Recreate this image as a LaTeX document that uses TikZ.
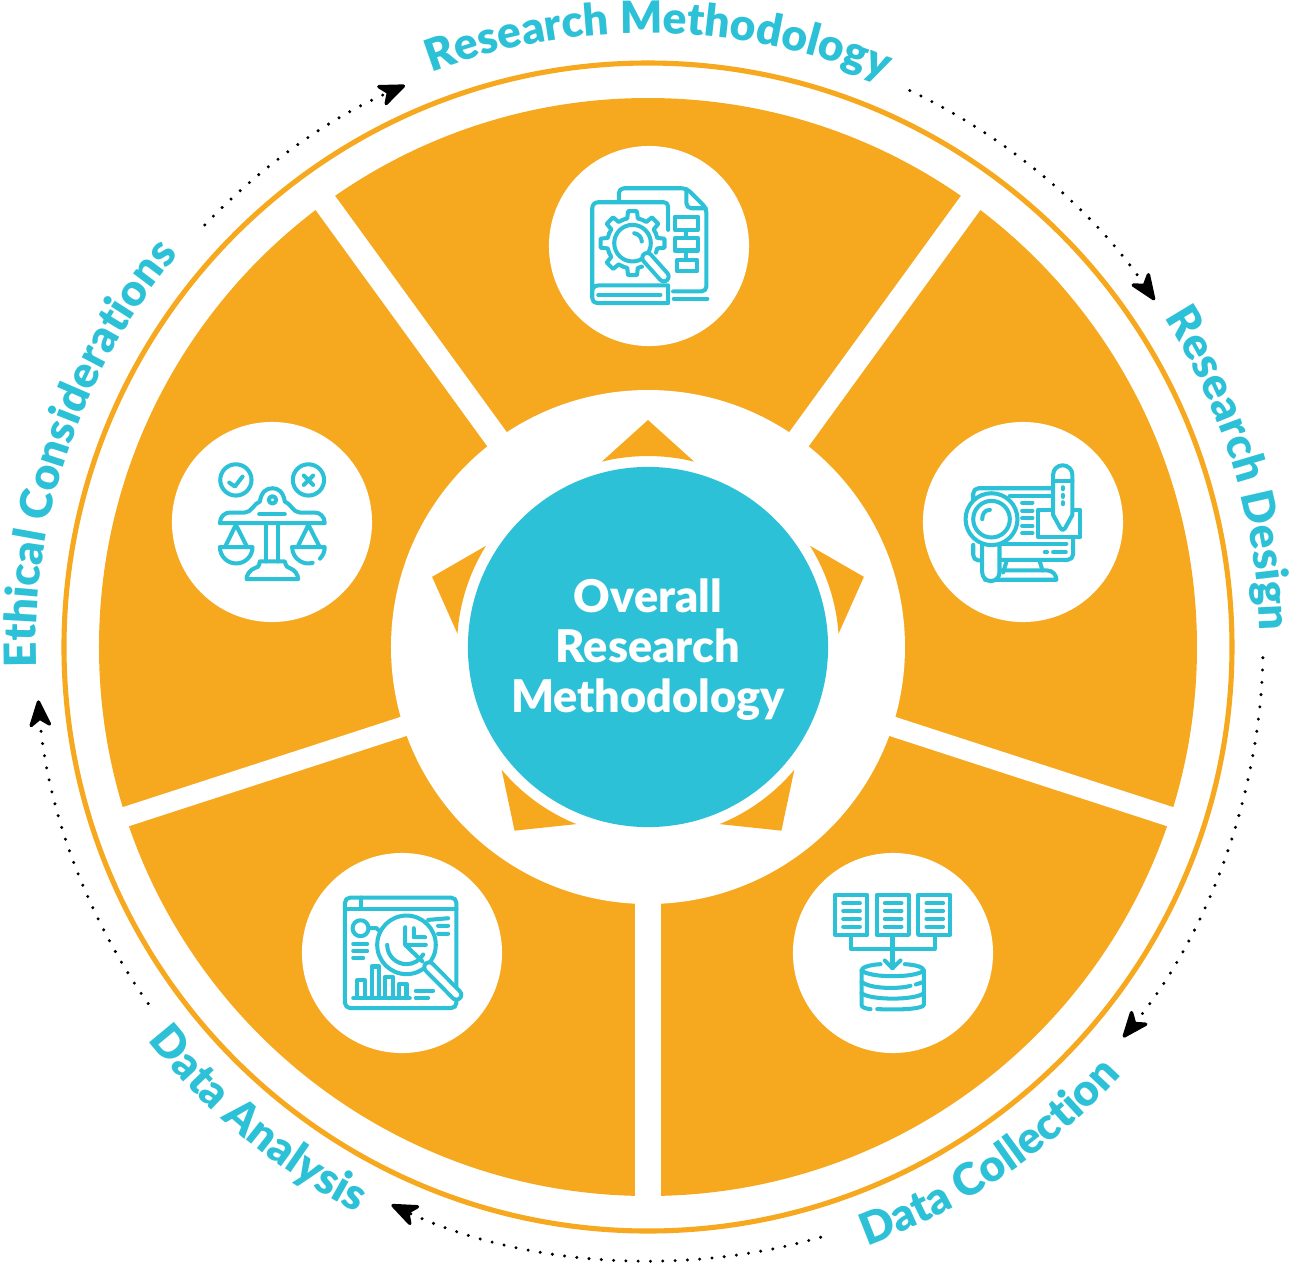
\documentclass[tikz,border=0pt]{standalone}
\usepackage{fontspec}
\setmainfont{Lato}[BoldFont={Lato Black}]
\usetikzlibrary{arrows.meta,decorations.text}
\definecolor{wheelorange}{HTML}{F6A81F}
\definecolor{wheelcyan}{HTML}{2DC1D7}
\newcommand{\labelfont}{\fontsize{12.6}{12.6}\selectfont\bfseries}

\begin{document}
\begin{tikzpicture}[
  x=0.01cm,y=0.01cm,
  iconspot/.style={circle,fill=white,minimum size=2cm,inner sep=0pt},
  corespot/.style={circle,fill=wheelcyan,minimum size=3.6cm,inner sep=0pt},
  coretext/.style={align=center,text=white,inner sep=0pt,font=\fontsize{12.8}{14.2}\selectfont\bfseries},
  iconzoom/.style={x=0.003333cm,y=-0.003333cm},
  iconline/.style={draw=wheelcyan,line width=1.15pt,line cap=round,line join=round},
  iconhandle/.style={iconline,double=white,double distance=1.6pt},
  dotarrow/.style={black,line width=0.95pt,line cap=round,dash pattern=on 0pt off 3.5pt,-{Stealth[length=9pt,width=7.2pt,inset=2.5pt,round=false]},looseness=0.86},
  ringtext/.style={decorate,decoration={text along path,text align=center,text color=wheelcyan,text={|\labelfont|#1}}}
]
  \useasboundingbox (-648,-618) rectangle (651,647);

  \draw[wheelorange,line width=1.45pt] (0,0) circle[radius=584];
  \fill[wheelorange] (0,0) circle[radius=549];
  \foreach \a/\w in {270/25,342/20,54/24,126/24,198/20}
    \draw[white,line width=\w*0.2845pt] (0,0) -- (\a:560);
  \fill[white] (0,0) circle[radius=257];
  \foreach \a in {90,18,306,234,162}
    \fill[wheelorange] (\a:227) -- (\a-14:191) arc[start angle=\a-14,end angle=\a+14,radius=191] -- cycle;

  \node[corespot] (core) at (0,0) {};
  \node[coretext] (coretitle) at (0,-3) {Overall\\Research\\Methodology};
  \node[iconspot] (methodology) at (1,401) {};
  \node[iconspot] (design) at (375,125) {};
  \node[iconspot] (collection) at (245,-306) {};
  \node[iconspot] (analysis) at (-246,-306) {};
  \node[iconspot] (ethics) at (-376,125) {};

  \path[ringtext={Research Methodology}] (111:614) arc[start angle=111,end angle=67,radius=614];
  \path[ringtext={Research Design}] (33:612) arc[start angle=33,end angle=1,radius=612];
  \path[ringtext={Data Collection}] (288.5:638) arc[start angle=288.5,end angle=319.5,radius=638];
  \path[ringtext={Data Analysis}] (218:636) arc[start angle=218,end angle=243,radius=636];
  \path[ringtext={Ethical Considerations}] (182.5:612) arc[start angle=182.5,end angle=139.5,radius=612];

  \coordinate (methodologyend) at (64.8:615);
  \coordinate (designstart) at (34.4:614);
  \coordinate (designend) at (-1:615);
  \coordinate (collectionstart) at (-39.4:615);
  \coordinate (collectionend) at (-73.7:615);
  \coordinate (analysisstart) at (245.3:614);
  \coordinate (analysisend) at (215.5:614);
  \coordinate (ethicsstart) at (185:612);
  \coordinate (ethicsend) at (136.4:612);
  \coordinate (methodologystart) at (113.4:612);

  \draw[dotarrow] (methodologyend) to[bend left=15.2] (designstart);
  \draw[dotarrow] (designend) to[bend left=19] (collectionstart);
  \draw[dotarrow] (collectionend) to[bend left=20.5] (analysisstart);
  \draw[dotarrow] (analysisend) to[bend left=15.2] (ethicsstart);
  \draw[dotarrow] (ethicsend) to[bend left=11.5] (methodologystart);

  \begin{scope}[shift={(-108,507)},iconzoom]
    \draw[iconline,rounded corners=1.4pt] (237,185) -- (237,145) -- (440,145) -- (500,205) -- (500,455) -- (400,455);
    \draw[iconline,rounded corners=1.4pt] (440,148) -- (440,205) -- (498,205);
    \draw[iconline] (385,270) -- (385,200) .. controls (385,192) and (380,187) .. (372,187) -- (175,187) .. controls (165,187) and (157,195) .. (157,205) -- (157,475) .. controls (157,484) and (163,490) .. (172,490) -- (385,490) -- (385,437) -- (175,437) .. controls (165,437) and (157,445) .. (157,455);
    \draw[iconline] (175,465) -- (362,465);
    \draw[iconline] (402,477) -- (503,477);
    \draw[iconline] (405,230) rectangle (475,270);
    \draw[iconline] (405,295) rectangle (475,332);
    \draw[iconline] (412,360) rectangle (472,395);
    \draw[iconline] (440,270) -- (440,295) (440,332) -- (440,360);
    \begin{scope}[shift={(278,310)}]
      \foreach \a in {0,90,135,180,225,270,315}
        \draw[iconline] (\a-22:76) -- (\a-12:76) -- (\a-8:97) -- (\a+8:97) -- (\a+12:76) -- (\a+22:76);
      \draw[iconline,fill=white] (0,0) circle[radius=55];
      \draw[iconline] (5,-30) .. controls (18,-28) and (27,-18) .. (28,-5);
    \end{scope}
    \draw[iconhandle] (322,354) -- (372,410);
  \end{scope}

  \begin{scope}[shift={(262,227)},iconzoom]
    \draw[iconline,rounded corners=1.5pt] (190,375) -- (190,422) -- (217,422);
    \draw[iconline,rounded corners=1.5pt] (190,255) -- (190,205) -- (430,205);
    \draw[iconline,rounded corners=1.5pt] (490,355) -- (490,420) -- (270,420);
    \draw[iconline] (300,228) -- (425,228) (275,372) -- (470,372);
    \foreach \y in {248,272,295,318,340}
      \draw[iconline] (337,\y) -- (368,\y);
    \draw[iconline] (405,397) -- (412,397) (430,397) -- (468,397);
    \draw[iconline] (290,425) -- (280,458) (390,425) -- (398,452);
    \draw[iconline] (270,452) -- (412,452) .. controls (428,452) and (440,465) .. (440,480) -- (225,480);
    \draw[iconline,fill=white] (385,270) rectangle (512,352);
    \draw[iconline,fill=white] (430,285) -- (430,165) arc[start angle=180,end angle=360,radius=29] -- (488,285) -- (466,325) .. controls (462,332) and (456,332) .. (452,325) -- cycle;
    \draw[iconline] (430,183) -- (488,183);
    \foreach \y in {205,228,250}
      \draw[iconline] (459,\y-3) -- (459,\y+3);
    \draw[iconline,fill=white] (217,372) -- (217,458) arc[start angle=180,end angle=0,radius=26] -- (269,372) -- cycle;
    \draw[iconline,fill=white] (245,298) circle[radius=78];
    \draw[iconline] (245,298) circle[radius=55];
    \draw[iconline] (217,298) .. controls (217,282) and (225,270) .. (240,270);
  \end{scope}

  \begin{scope}[shift={(142,-203)},iconzoom]
    \foreach \x in {135,260,385} {
      \draw[iconline] (\x,135) rectangle (\x+97,255);
      \foreach \y in {160,183,207,230}
        \draw[iconline] (\x+25,\y) -- (\x+75,\y);
    }
    \draw[iconline] (183,255) -- (183,297) -- (435,297) -- (435,255);
    \draw[iconline] (308,255) -- (308,355);
    \draw[iconline] (285,332) -- (308,355) -- (332,332);
    \draw[iconline] (272,343) .. controls (240,345) and (215,352) .. (215,362) -- (215,465) .. controls (215,472) and (225,477) .. (242,478);
    \draw[iconline] (345,343) .. controls (378,345) and (402,352) .. (402,362) -- (402,465) .. controls (402,475) and (350,482) .. (262,478);
    \draw[iconline] (215,362) .. controls (240,385) and (378,385) .. (402,362);
    \draw[iconline] (215,396) .. controls (240,418) and (330,418) .. (362,408) (378,404) -- (402,396);
    \draw[iconline] (215,430) .. controls (240,452) and (378,452) .. (402,430);
  \end{scope}

  \begin{scope}[shift={(-348,-203)},iconzoom]
    \draw[iconline,rounded corners=1.5pt] (135,143) rectangle (470,475);
    \draw[iconline] (135,177) -- (470,177) (182,143) -- (182,177);
    \draw[iconline] (182,235) circle[radius=24];
    \draw[iconline] (206,235) -- (230,235) -- (258,262);
    \draw[iconline] (160,282) -- (202,282) (160,303) -- (202,303) (160,324) -- (190,324);
    \draw[iconline] (385,210) -- (445,205) (415,228) -- (445,228) (415,252) -- (445,252);
    \draw[iconline] (172,440) -- (172,392) -- (195,392) -- (195,440);
    \draw[iconline] (215,440) -- (215,350) -- (238,350) -- (238,440);
    \draw[iconline] (255,440) -- (255,382) -- (280,382) -- (280,440);
    \draw[iconline] (298,440) -- (298,402) -- (320,402) -- (320,440);
    \draw[iconline] (160,445) -- (330,445);
    \draw[iconline] (348,423) -- (400,423) (348,445) -- (385,445);
    \draw[iconline,fill=white] (320,285) circle[radius=88];
    \draw[iconline] (262,285) arc[start angle=180,end angle=30,radius=58];
    \draw[iconline] (316,232) -- (316,285) -- (368,335) (316,285) -- (378,285) (342,262) -- (342,235) (342,262) -- (376,262);
    \draw[iconhandle] (388,352) -- (470,435);
  \end{scope}

  \begin{scope}[shift={(-478,227)},iconzoom]
    \draw[iconline] (198,180) circle[radius=47];
    \draw[iconline] (178,188) -- (195,200) -- (218,170);
    \draw[iconline] (416,180) circle[radius=47];
    \draw[iconline] (402,167) -- (430,195) (430,167) -- (402,195);
    \draw[iconline] (150,310) -- (465,310) .. controls (465,290) and (450,278) .. (435,278) -- (390,278) .. controls (370,278) and (362,250) .. (345,245) .. controls (340,215) and (325,205) .. (308,205) .. controls (290,205) and (275,215) .. (270,245) .. controls (253,250) and (245,278) .. (225,278) -- (180,278) .. controls (165,278) and (150,290) .. (150,310);
    \draw[iconline] (308,240) circle[radius=11];
    \draw[iconline] (268,283) -- (345,283);
    \draw[iconline] (288,310) -- (288,425) (325,310) -- (325,425);
    \draw[iconline] (270,425) -- (345,425) .. controls (348,440) and (355,445) .. (360,445) .. controls (375,450) and (385,465) .. (385,478) -- (230,478) .. controls (230,465) and (240,450) .. (255,445) .. controls (262,445) and (268,440) .. (270,425);
    \draw[iconline] (232,382) -- (198,315) -- (165,382);
    \draw[iconline] (150,382) -- (248,382) arc[start angle=0,end angle=180,radius=49];
    \draw[iconline] (450,382) -- (416,315) -- (383,382);
    \draw[iconline] (367,382) -- (465,382) arc[start angle=0,end angle=45,radius=49];
    \draw[iconline] (367,382) arc[start angle=180,end angle=75,radius=49];
  \end{scope}
\end{tikzpicture}
\end{document}
